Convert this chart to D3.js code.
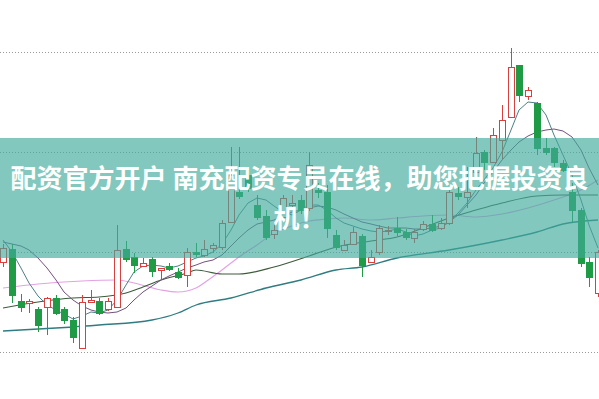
<!DOCTYPE html>
<html>
<head>
<meta charset="utf-8">
<script src="https://cdn.jsdelivr.net/npm/d3@7"></script>
<style>
  html, body { margin: 0; padding: 0; background: #fff; }
  svg { display: block; }
</style>
</head>
<body>
<div id="chart"></div>
<script>
// price data, one entry per candle
var open  = [9.90,10.03,9.51,9.49,9.43,9.45,9.54,9.43,9.32,9.04,9.50,9.51,9.43,9.45,10.03,9.95,9.86,9.93,9.82,9.86,9.80,9.77,10.00,9.97,10.04,10.05,10.30,10.60,10.77,10.47,10.36,10.18,10.35,10.47,10.52,10.44,10.62,10.60,10.17,10.02,10.08,10.16,9.90,10.00,10.21,10.24,10.20,10.14,10.23,10.28,10.24,10.29,10.59,10.55,10.80,11.00,10.90,11.12,11.35,11.87,11.56,11.49,11.04,11.04,10.89,10.60,10.42,9.90,9.59];
var close = [10.04,9.57,9.45,9.51,9.27,9.54,9.39,9.32,9.15,9.50,9.52,9.39,9.51,10.02,9.93,9.87,9.89,9.81,9.84,9.83,9.75,10.00,9.98,10.03,10.07,10.29,10.77,10.56,10.64,10.35,10.15,10.22,10.54,10.49,10.42,10.87,10.60,10.24,10.05,10.07,10.20,9.87,9.95,10.24,10.22,10.20,10.15,10.20,10.28,10.22,10.29,10.60,10.56,10.60,10.99,10.90,11.17,11.32,11.85,11.57,11.62,11.04,11.00,10.90,10.82,10.42,9.89,9.75,10.00];
var high  = [10.08,10.08,9.58,9.53,9.45,9.55,9.57,9.45,9.35,9.57,9.62,9.54,9.54,10.27,10.11,9.99,9.94,9.95,9.84,9.89,9.84,10.04,10.09,10.12,10.09,10.32,11.05,11.05,10.82,10.57,10.42,10.27,10.57,10.57,10.57,11.00,10.69,10.67,10.22,10.12,10.25,10.18,10.02,10.27,10.26,10.35,10.23,10.23,10.31,10.37,10.34,10.65,10.65,10.85,11.15,11.02,11.24,11.47,12.04,11.87,11.65,11.50,11.14,11.05,10.92,10.69,10.44,9.95,10.02];
var low   = [9.85,9.49,9.40,9.39,9.20,9.17,9.37,9.28,9.09,9.03,9.49,9.37,9.41,9.44,9.90,9.79,9.85,9.75,9.73,9.81,9.73,9.65,9.95,9.95,9.99,10.02,10.29,10.53,10.60,10.32,10.12,10.13,10.32,10.39,10.38,10.41,10.54,10.14,10.02,10.01,10.07,9.75,9.89,9.97,10.17,10.16,10.12,10.09,10.21,10.20,10.22,10.27,10.52,10.44,10.79,10.82,10.89,10.92,11.34,11.50,11.52,10.97,10.97,10.85,10.80,10.30,9.85,9.65,9.55];

// moving average lines
var ma5 = [10.12,10.00,9.84,9.69,9.56,9.47,9.42,9.38,9.33,9.36,9.40,9.39,9.42,9.52,9.67,9.80,9.86,9.87,9.86,9.84,9.86,9.90,9.94,9.96,10.00,10.08,10.22,10.37,10.49,10.54,10.52,10.46,10.40,10.37,10.42,10.47,10.47,10.42,10.34,10.29,10.26,10.23,10.21,10.20,10.21,10.23,10.20,10.16,10.18,10.22,10.24,10.30,10.39,10.49,10.62,10.72,10.84,11.00,11.22,11.42,11.50,11.49,11.37,11.17,10.97,10.77,10.52,10.27,10.04];
var ma10 = [10.10,10.08,10.06,10.02,9.94,9.84,9.72,9.60,9.52,9.46,9.42,9.40,9.39,9.40,9.44,9.52,9.60,9.66,9.72,9.76,9.80,9.84,9.87,9.90,9.92,9.97,10.06,10.14,10.22,10.28,10.30,10.32,10.36,10.40,10.42,10.44,10.46,10.45,10.42,10.38,10.34,10.30,10.28,10.26,10.24,10.24,10.24,10.23,10.23,10.24,10.26,10.30,10.37,10.47,10.57,10.69,10.80,10.92,11.02,11.10,11.16,11.20,11.22,11.23,11.21,11.15,11.02,10.84,10.67];
var ma20 = [[0,9.64],[4,9.68],[9,9.71],[13,9.72],[15,9.69],[18,9.62],[20,9.60],[22,9.64],[23,9.69],[25,9.82],[27,9.95],[29,10.07],[31,10.19],[33,10.26],[35,10.31],[37,10.33],[39,10.34],[42,10.32],[45,10.34],[48,10.36],[51,10.37],[54,10.35],[57,10.38],[60,10.44],[63,10.52],[66,10.62],[68,10.72]];
var ma30 = [[0,9.44],[4,9.50],[8,9.54],[11,9.55],[14,9.59],[16,9.65],[18,9.72],[21,9.79],[22,9.82],[25,9.78],[27,9.78],[31,9.85],[35,9.96],[38,10.05],[42,10.11],[45,10.15],[48,10.24],[51,10.34],[54,10.42],[57,10.49],[61,10.56],[64,10.57],[68,10.57]];
var ma60 = [[0,9.21],[6,9.24],[11,9.27],[17,9.32],[20,9.39],[22,9.47],[26,9.54],[30,9.64],[34,9.72],[38,9.82],[41,9.85],[45,9.94],[51,10.02],[57,10.12],[61,10.20],[64,10.28],[68,10.32]];

var gridPrices = [12, 11, 10, 9];
var bannerLines = ["配资官方开户 南充配资专员在线，助您把握投资良", "机！"];

var width = 599, height = 399;
var days = d3.range(open.length);

var x = d3.scaleBand().domain(days).range([-1.375, 602.375]);
var y = d3.scaleLinear().domain([9, 12]).range([352, 52]);
var cx = function(i) { return Math.round(x(i) + x.bandwidth() / 2); };

var svg = d3.select("#chart").append("svg")
  .attr("width", width)
  .attr("height", height);

svg.append("rect").attr("width", width).attr("height", height).attr("fill", "#fff");

// dotted grid
svg.append("g").selectAll("line").data(gridPrices).enter()
  .append("line")
  .attr("x1", 0).attr("x2", width)
  .attr("y1", d => Math.round(y(d)) + 0.5)
  .attr("y2", d => Math.round(y(d)) + 0.5)
  .attr("stroke", "#9a9a9a")
  .attr("stroke-dasharray", "1,2");

// moving averages
var lineFull = d3.line().x((d, i) => cx(i)).y(d => y(d));
var lineSparse = d3.line().x(d => cx(d[0])).y(d => y(d[1])).curve(d3.curveMonotoneX);

var maLayer = svg.append("g").attr("fill", "none");
maLayer.append("path").attr("d", lineSparse(ma60)).attr("stroke", "#2f7c82").attr("stroke-width", 1.3);
maLayer.append("path").attr("d", lineSparse(ma20)).attr("stroke", "#e3a2e3").attr("stroke-width", 1.2);
maLayer.append("path").attr("d", lineSparse(ma30)).attr("stroke", "#3c5a3c").attr("stroke-width", 1.1);
maLayer.append("path").attr("d", lineFull(ma10)).attr("stroke", "#74507e").attr("stroke-width", 1);
maLayer.append("path").attr("d", lineFull(ma5)).attr("stroke", "#4d7f86").attr("stroke-width", 1);

// candles
var candles = svg.append("g").selectAll("g").data(days).enter().append("g");
var isUp = i => close[i] >= open[i];
var colorOf = i => isUp(i) ? "#d8403f" : "#1f9a45";

candles.append("line")
  .attr("x1", i => cx(i) + 0.5).attr("x2", i => cx(i) + 0.5)
  .attr("y1", i => y(high[i])).attr("y2", i => y(low[i]))
  .attr("stroke", colorOf);

candles.append("rect")
  .attr("x", i => cx(i) - 2.5)
  .attr("width", 6)
  .attr("y", i => Math.round(y(Math.max(open[i], close[i]))) + 0.5)
  .attr("height", i => Math.max(1, Math.round(Math.abs(y(open[i]) - y(close[i])))))
  .attr("fill", i => isUp(i) ? "#fff" : "#1f9a45")
  .attr("stroke", colorOf);

// banner
svg.append("rect")
  .attr("x", 0).attr("y", 138)
  .attr("width", width).attr("height", 120)
  .attr("fill", "rgb(64,170,155)")
  .attr("fill-opacity", 0.65);

svg.append("g").selectAll("text").data(bannerLines).enter()
  .append("text")
  .attr("x", 299.5)
  .attr("y", (d, i) => 188 + i * 40)
  .attr("text-anchor", "middle")
  .attr("fill", "#fff")
  .style("font-family", "'Noto Sans CJK SC', sans-serif")
  .style("font-weight", 700)
  .style("font-size", "26px")
  .text(d => d);
</script>
</body>
</html>
